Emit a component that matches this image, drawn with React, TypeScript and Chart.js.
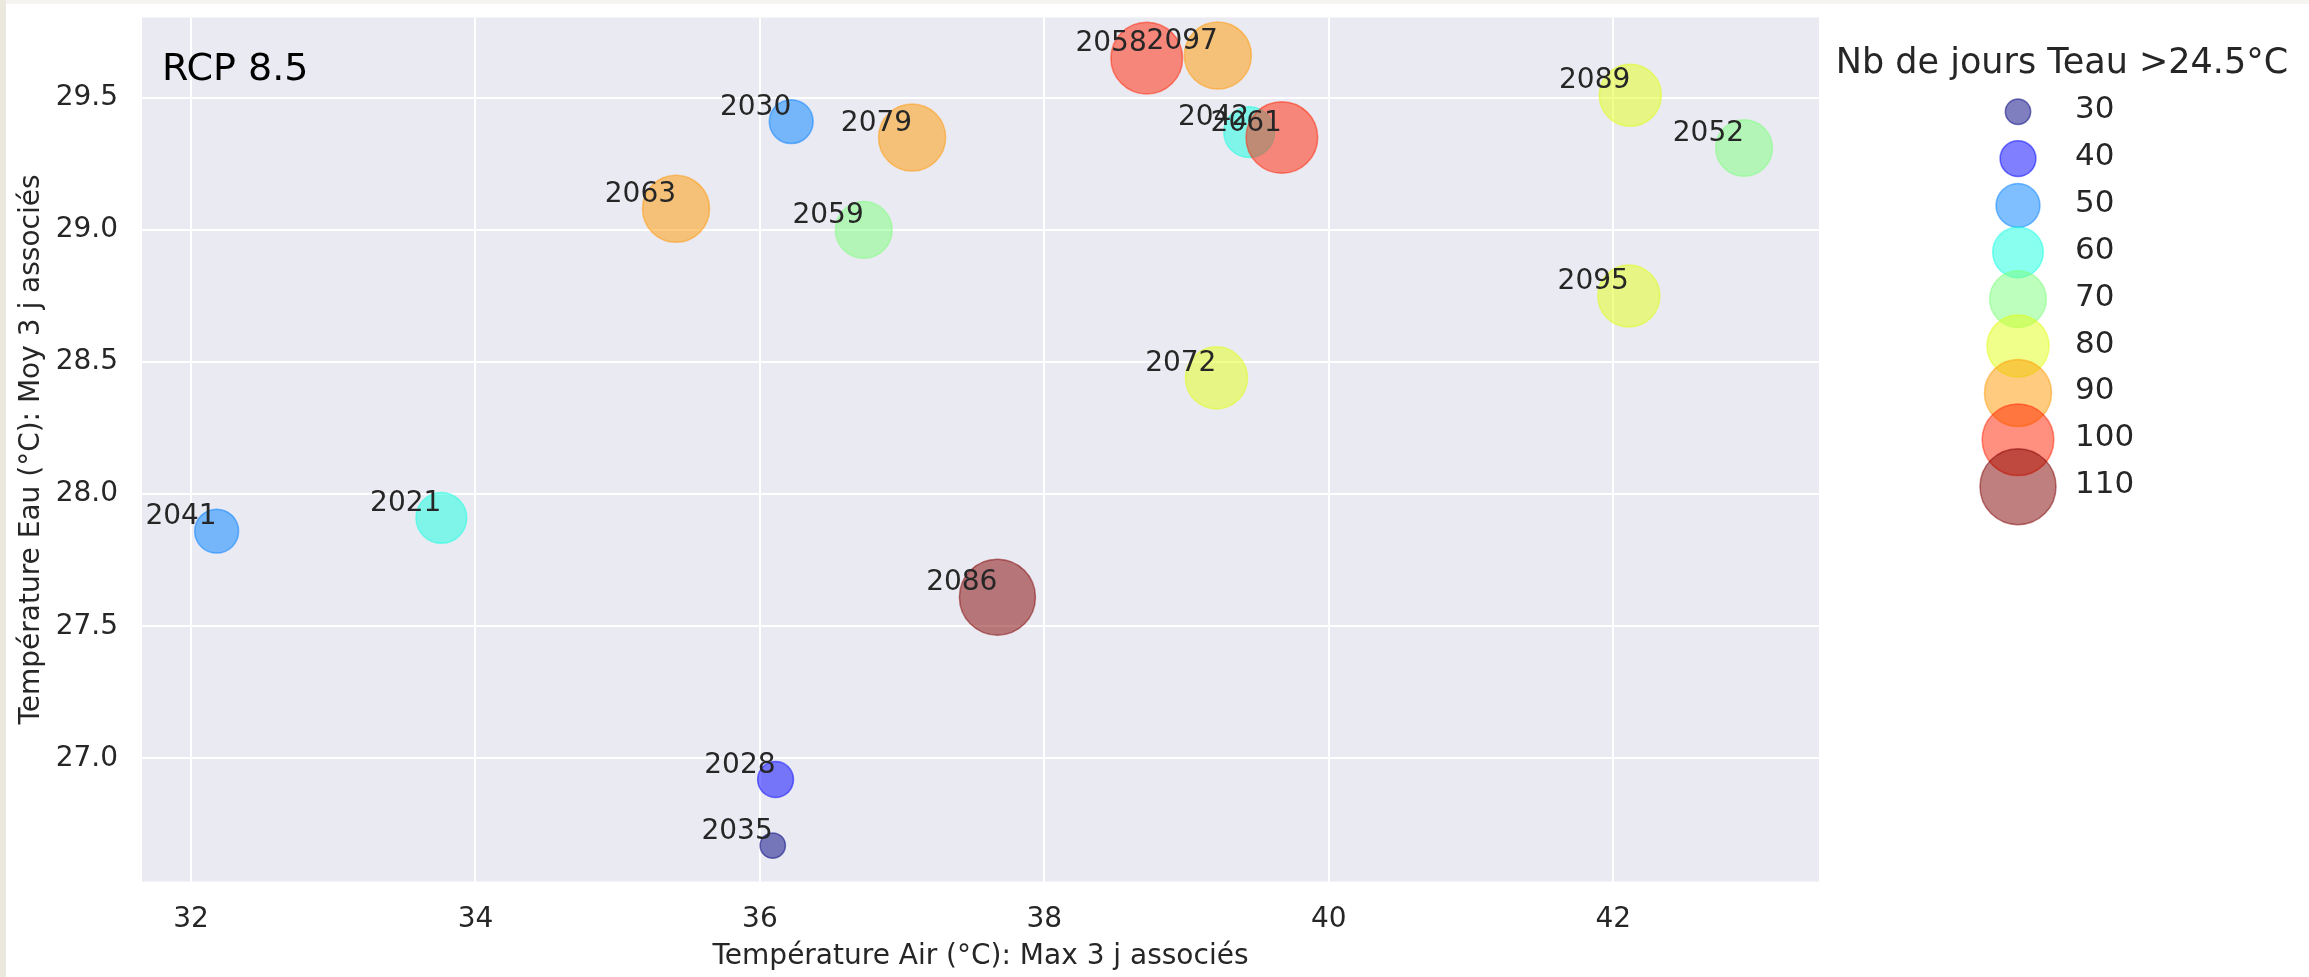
import React, { useEffect, useRef } from 'react';
import { Chart, registerables } from 'chart.js';

Chart.register(...registerables);

// ---- data ----
const years = [2021, 2028, 2030, 2035, 2041, 2042, 2052, 2058, 2059, 2061, 2063, 2072, 2079, 2086, 2089, 2095, 2097];
const airMax = [33.76, 36.11, 36.22, 36.09, 32.18, 39.44, 42.92, 38.72, 36.73, 39.67, 35.41, 39.21, 37.07, 37.67, 42.12, 42.11, 39.22];
const waterMean = [27.91, 26.92, 29.41, 26.67, 27.86, 29.37, 29.31, 29.65, 29.0, 29.35, 29.08, 28.44, 29.35, 27.61, 29.51, 28.75, 29.66];
const nbDays = [60, 40, 50, 30, 50, 60, 70, 100, 70, 100, 90, 80, 90, 110, 80, 80, 90];

const sizeLevels = [30, 40, 50, 60, 70, 80, 90, 100, 110];
const levelRgb = [
  [0, 0, 128],
  [0, 0, 255],
  [0, 128, 255],
  [20, 255, 226],
  [123, 255, 123],
  [226, 255, 20],
  [255, 151, 0],
  [255, 33, 0],
  [128, 0, 0],
];
const xTicks = [32, 34, 36, 38, 40, 42];
const yTicks = [27, 27.5, 28, 28.5, 29, 29.5];
const xTitle = 'Température Air (°C): Max 3 j associés';
const yTitle = 'Température Eau (°C): Moy 3 j associés';
const legendTitle = 'Nb de jours Teau >24.5°C';
const panelLabel = 'RCP 8.5';

const FONT = '"DejaVu Sans", sans-serif';
const TXT = '#262626';

const radiusFor = (v: number) => Math.sqrt(161 + 16.04 * (v - 30));
const rgba = (v: number, a: number) => {
  const c = levelRgb[sizeLevels.indexOf(v)];
  return `rgba(${c[0]},${c[1]},${c[2]},${a})`;
};

const decorPlugin = {
  id: 'decor',
  beforeDraw(chart: any) {
    const { ctx, chartArea, width, height } = chart;
    ctx.save();
    ctx.fillStyle = '#ffffff';
    ctx.fillRect(0, 0, width, height);
    ctx.fillStyle = '#f6f4f0';
    ctx.fillRect(0, 0, width, 4);
    ctx.fillStyle = '#ebe8de';
    ctx.fillRect(0, 0, 6, height);
    ctx.fillStyle = '#EAEAF2';
    ctx.fillRect(chartArea.left, chartArea.top, chartArea.right - chartArea.left, chartArea.bottom - chartArea.top);
    ctx.restore();
  },
  afterDatasetsDraw(chart: any) {
    const { ctx, chartArea } = chart;
    const meta = chart.getDatasetMeta(0);
    ctx.save();
    ctx.fillStyle = TXT;
    ctx.font = `28px ${FONT}`;
    ctx.textAlign = 'right';
    ctx.textBaseline = 'bottom';
    meta.data.forEach((el: any, i: number) => {
      ctx.fillText(String(years[i]), el.x, el.y);
    });
    // panel label
    ctx.fillStyle = '#000000';
    ctx.font = `38px ${FONT}`;
    ctx.textAlign = 'left';
    ctx.textBaseline = 'alphabetic';
    ctx.fillText(panelLabel, chartArea.left + 20, 80);
    ctx.restore();
  },
  afterDraw(chart: any) {
    const { ctx, chartArea } = chart;
    ctx.save();
    const lx = chartArea.right + 199;
    ctx.fillStyle = TXT;
    ctx.font = `35px ${FONT}`;
    ctx.textAlign = 'center';
    ctx.textBaseline = 'alphabetic';
    ctx.fillText(legendTitle, chartArea.right + 243, 72.7);
    sizeLevels.forEach((v, i) => {
      const cy = 111.7 + i * 46.87;
      ctx.beginPath();
      ctx.arc(lx, cy, radiusFor(v), 0, Math.PI * 2);
      ctx.fillStyle = rgba(v, 0.5);
      ctx.fill();
      ctx.lineWidth = 1.5;
      ctx.strokeStyle = rgba(v, 0.5);
      ctx.stroke();
      ctx.fillStyle = TXT;
      ctx.font = `31px ${FONT}`;
      ctx.textAlign = 'left';
      ctx.textBaseline = 'middle';
      ctx.fillText(String(v), lx + 57, cy - 1.5);
    });
    ctx.restore();
  },
};

export default function App() {
  const ref = useRef<HTMLCanvasElement | null>(null);
  useEffect(() => {
    if (!ref.current) return;
    const points = airMax.map((x, i) => ({ x, y: waterMean[i] }));
    const chart = new Chart(ref.current, {
      type: 'scatter',
      data: {
        datasets: [
          {
            data: points,
            pointRadius: nbDays.map(radiusFor),
            pointHoverRadius: nbDays.map(radiusFor),
            backgroundColor: nbDays.map((v) => rgba(v, 0.5)),
            borderColor: nbDays.map((v) => rgba(v, 0.5)),
            pointBorderWidth: 1.5,
            borderWidth: 1.5,
            showLine: false,
            clip: false as any,
          },
        ],
      },
      options: {
        animation: false,
        responsive: true,
        maintainAspectRatio: false,
        devicePixelRatio: 1,
        events: [],
        layout: { autoPadding: false, padding: { top: 17.5, right: 490, bottom: 0, left: 0 } },
        plugins: { legend: { display: false }, tooltip: { enabled: false } },
        scales: {
          x: {
            type: 'linear',
            min: 31.655,
            max: 43.447,
            bounds: 'data',
            afterBuildTicks: (s: any) => {
              s.ticks = xTicks.map((v) => ({ value: v }));
            },
            afterFit: (s: any) => {
              s.height = 95.5;
            },
            ticks: {
              padding: 0,
              color: TXT,
              font: { family: FONT, size: 28 },
              maxRotation: 0,
              callback: (v: any) => String(v),
            },
            grid: { color: '#ffffff', lineWidth: 2, drawTicks: true, tickLength: 21, tickColor: 'rgba(0,0,0,0)' },
            border: { display: false },
            title: {
              display: true,
              text: xTitle,
              color: TXT,
              font: { family: FONT, size: 28 },
              padding: { top: 0, bottom: 3 },
            },
          },
          y: {
            type: 'linear',
            min: 26.534,
            max: 29.804,
            bounds: 'data',
            afterBuildTicks: (s: any) => {
              s.ticks = yTicks.map((v) => ({ value: v }));
            },
            afterFit: (s: any) => {
              s.width = 142;
            },
            ticks: {
              padding: 0,
              color: TXT,
              font: { family: FONT, size: 28 },
              callback: (v: any) => Number(v).toFixed(1),
            },
            grid: { color: '#ffffff', lineWidth: 2, drawTicks: true, tickLength: 24, tickColor: 'rgba(0,0,0,0)' },
            border: { display: false },
            title: {
              display: true,
              text: yTitle,
              color: TXT,
              font: { family: FONT, size: 28 },
              padding: { top: 15, bottom: 0 },
            },
          },
        },
      } as any,
      plugins: [decorPlugin],
    });
    return () => chart.destroy();
  }, []);
  return (
    <div style={{ position: 'fixed', left: 0, top: 0, width: 2309, height: 977, background: '#fff' }}>
      <canvas ref={ref} />
    </div>
  );
}
